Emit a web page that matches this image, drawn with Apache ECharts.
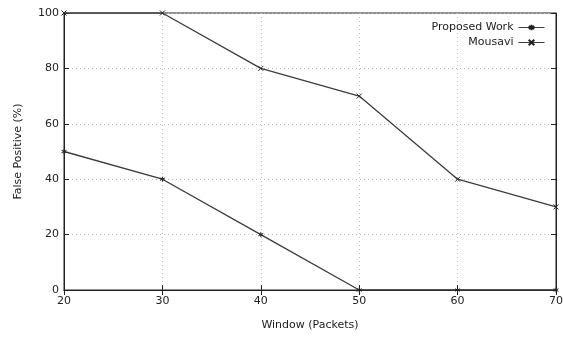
<!DOCTYPE html>
<html>
<head>
<meta charset="utf-8">
<script src="https://cdn.jsdelivr.net/npm/echarts@6/dist/echarts.min.js"></script>
<style>
  html, body { margin: 0; padding: 0; background: #fff; }
  #chart { width: 563px; height: 338px; }
</style>
</head>
<body>
<div id="chart"></div>
<script>
// window sizes on the x axis
var windows = [20, 30, 40, 50, 60, 70];
// false positive rate (%)
var proposedWork = [50, 40, 20, 0, 0, 0];
var mousavi = [100, 100, 80, 70, 40, 30];

var FONT = "DejaVu Sans";
var INK = "#222";
var LINE = "#3c3c3c";

// gnuplot-like point shapes, stroked
var starSym = "path://M5,0 L5,10 M0,2.5 L10,7.5 M0,7.5 L10,2.5";
var crossSym = "path://M0,0 L10,10 M10,0 L0,10";

function pairs(xs, ys) {
  return xs.map(function (x, i) { return [x, ys[i]]; });
}

var chart = echarts.init(document.getElementById("chart"));

var option = {
  animation: false,
  textStyle: { fontFamily: FONT },
  grid: {
    left: 64, right: 7, top: 13, bottom: 48,
    outerBoundsMode: "none",
    show: true, borderColor: INK, borderWidth: 1
  },
  legend: {
    right: 13,
    top: 17,
    orient: "vertical",
    align: "right",
    itemGap: 4,
    itemWidth: 26,
    itemHeight: 7,
    textStyle: { fontFamily: FONT, fontSize: 11, color: INK },
    lineStyle: { width: 1 },
    data: ["Proposed Work", "Mousavi"]
  },
  xAxis: [{
    type: "value",
    min: 20, max: 70, interval: 10,
    name: "Window (Packets)",
    nameLocation: "middle",
    nameGap: 30,
    nameTextStyle: { fontSize: 11, color: INK },
    axisLine: { show: true, lineStyle: { color: INK } },
    axisTick: { inside: true, length: 5, lineStyle: { color: INK } },
    axisLabel: { fontSize: 11, color: INK, margin: 6 },
    splitLine: { show: true, lineStyle: { color: "#bbb", type: [1, 3] } }
  }, {
    type: "value", position: "top",
    min: 20, max: 70, interval: 10,
    axisLine: { show: true, lineStyle: { color: INK } },
    axisTick: { inside: true, length: 5, lineStyle: { color: INK } },
    axisLabel: { show: false },
    splitLine: { show: false }
  }],
  yAxis: [{
    type: "value",
    min: 0, max: 100, interval: 20,
    name: "False Positive (%)",
    nameLocation: "middle",
    nameGap: 40,
    nameTextStyle: { fontSize: 11, color: INK },
    axisLine: { show: true, lineStyle: { color: INK } },
    axisTick: { inside: true, length: 5, lineStyle: { color: INK } },
    axisLabel: { fontSize: 11, color: INK, margin: 5 },
    splitLine: { show: true, lineStyle: { color: "#bbb", type: [1, 3] } }
  }, {
    type: "value", position: "right",
    min: 0, max: 100, interval: 20,
    axisLine: { show: true, lineStyle: { color: INK } },
    axisTick: { inside: true, length: 5, lineStyle: { color: INK } },
    axisLabel: { show: false },
    splitLine: { show: false }
  }],
  series: [{
    name: "Proposed Work",
    type: "line",
    data: pairs(windows, proposedWork),
    symbol: starSym,
    symbolSize: 5,
    showAllSymbol: true,
    lineStyle: { color: LINE, width: 1.3 },
    itemStyle: { color: "none", borderColor: INK, borderWidth: 1 }
  }, {
    name: "Mousavi",
    type: "line",
    data: pairs(windows, mousavi),
    symbol: crossSym,
    symbolSize: 5,
    showAllSymbol: true,
    lineStyle: { color: LINE, width: 1.3 },
    itemStyle: { color: "none", borderColor: INK, borderWidth: 1 }
  }]
};

chart.setOption(option);
</script>
</body>
</html>
